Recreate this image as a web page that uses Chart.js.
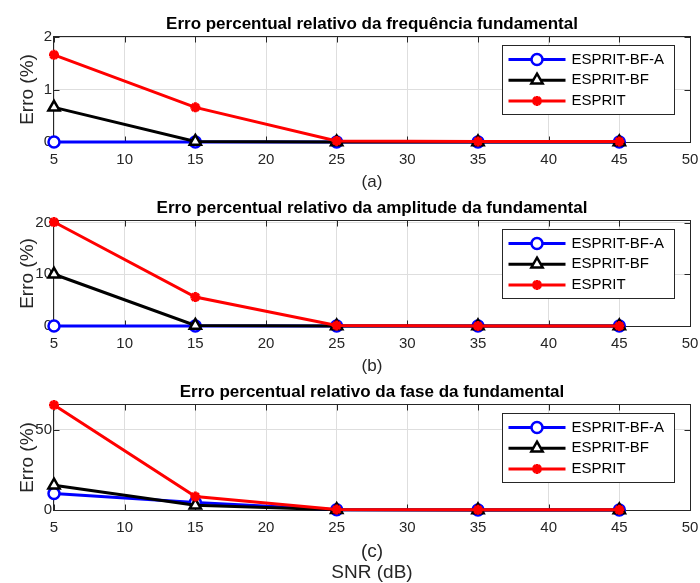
<!DOCTYPE html>
<html>
<head>
<meta charset="utf-8">
<script src="https://cdn.jsdelivr.net/npm/chart.js@4.4.1/dist/chart.umd.min.js"></script>
<style>
  body { margin: 0; background: #fff; }
  #figure { position: relative; width: 700px; height: 583px; overflow: hidden; }
  #figure canvas { position: absolute; left: 0; }
</style>
</head>
<body>
<div id="figure">
  <canvas id="freqChart" width="700" height="193" style="top:0px"></canvas>
  <canvas id="ampChart" width="700" height="193" style="top:184px"></canvas>
  <canvas id="phaseChart" width="700" height="215" style="top:368px"></canvas>
</div>
<script>
// Data
const snr = [5, 15, 25, 35, 45];
const xTicks = [5, 10, 15, 20, 25, 30, 35, 40, 45, 50];
const seriesNames = ['ESPRIT-BF-A', 'ESPRIT-BF', 'ESPRIT'];

const freqBFA = [0, 0, 0, 0, 0];
const freqBF = [0.66, 0.01, 0, 0, 0];
const freqESPRIT = [1.66, 0.66, 0.02, 0.01, 0.01];
const freqTicks = [0, 1, 2];

const ampBFA = [0, 0, 0, 0, 0];
const ampBF = [10, 0.1, 0, 0, 0];
const ampESPRIT = [20.1, 5.6, 0.1, 0, 0];
const ampTicks = [0, 10, 20];

const phaseBFA = [10.3, 4.7, 0.2, 0, 0];
const phaseBF = [15.5, 2.9, 0.2, 0, 0];
const phaseESPRIT = [65.5, 8.4, 0.3, 0.1, 0.1];
const phaseTicks = [0, 50];

// Styles
const seriesColors = ['#0000ff', '#000000', '#ff0000'];
const markerStyles = ['circle', 'triangle', 'star'];
const markerSizes = [5.5, 6.5, 5];
const FONT = '"Liberation Sans", Arial, Helvetica, sans-serif';
const AXIS_GREY = '#262626';

Chart.defaults.font.family = FONT;

// MATLAB-like box with inward ticks, plus legend inside the axes
const matlabAxes = {
  id: 'matlabAxes',
  beforeDatasetsDraw(chart) {
    const { ctx, chartArea: a, scales: { x, y } } = chart;
    const L = Math.round(a.left) - 0.5, R = Math.round(a.right) + 0.5;
    const T = Math.round(a.top) - 0.5, B = Math.round(a.bottom) + 0.5;
    ctx.save();
    ctx.strokeStyle = AXIS_GREY;
    ctx.lineWidth = 1;
    ctx.strokeRect(L, T, R - L, B - T);
    ctx.beginPath();
    x.ticks.forEach(t => {
      const px = Math.round(x.getPixelForValue(t.value)) + 0.5;
      ctx.moveTo(px, B); ctx.lineTo(px, B - 6);
      ctx.moveTo(px, T); ctx.lineTo(px, T + 6);
    });
    y.ticks.forEach(t => {
      const py = Math.round(y.getPixelForValue(t.value)) + 0.5;
      ctx.moveTo(L, py); ctx.lineTo(L + 6, py);
      ctx.moveTo(R, py); ctx.lineTo(R - 6, py);
    });
    ctx.stroke();
    ctx.restore();
  },
  afterDraw(chart) {
    const { ctx, chartArea: area } = chart;
    const sets = chart.data.datasets;
    const rowH = 20.7;
    ctx.save();
    ctx.font = '15px ' + FONT;
    const textW = Math.max(...sets.map(d => ctx.measureText(d.label).width));
    const w = Math.round(69 + textW + 10);
    const h = Math.round(28 + rowH * (sets.length - 1));
    const left = Math.round(area.right - 16 - w) + 0.5;
    const top = Math.round(area.top + 8) + 0.5;
    ctx.fillStyle = '#ffffff';
    ctx.fillRect(left, top, w, h);
    ctx.strokeStyle = AXIS_GREY;
    ctx.lineWidth = 1;
    ctx.strokeRect(left, top, w, h);
    sets.forEach((d, i) => {
      const cy = top + 14 + i * rowH;
      ctx.strokeStyle = d.borderColor;
      ctx.lineWidth = d.borderWidth;
      ctx.beginPath();
      ctx.moveTo(left + 6, cy);
      ctx.lineTo(left + 63, cy);
      ctx.stroke();
      ctx.fillStyle = d.pointBackgroundColor;
      ctx.lineWidth = d.pointBorderWidth;
      Chart.helpers.drawPoint(ctx, {
        pointStyle: d.pointStyle, radius: d.pointRadius, rotation: 0, borderWidth: d.pointBorderWidth
      }, left + 34.5, cy);
      ctx.fillStyle = '#000000';
      ctx.textAlign = 'left';
      ctx.textBaseline = 'middle';
      ctx.fillText(d.label, left + 69, cy);
    });
    ctx.restore();
  }
};

function buildPanel(id, opts) {
  const datasets = opts.series.map((values, i) => ({
    label: seriesNames[i],
    data: snr.map((x, j) => ({ x: x, y: values[j] })),
    borderColor: seriesColors[i],
    backgroundColor: '#ffffff',
    pointBackgroundColor: '#ffffff',
    pointBorderColor: seriesColors[i],
    pointStyle: markerStyles[i],
    pointRadius: markerSizes[i],
    pointBorderWidth: i === 2 ? 3 : 2.5,
    borderWidth: 3,
    tension: 0,
    clip: false,
    order: 2 - i
  }));

  return new Chart(document.getElementById(id), {
    type: 'line',
    data: { datasets },
    options: {
      responsive: false,
      animation: false,
      layout: { padding: { left: 0, right: 10, top: 0, bottom: 0 } },
      plugins: { legend: { display: false }, tooltip: { enabled: false } },
      scales: {
        x: {
          type: 'linear',
          position: 'bottom',
          min: 5,
          max: 50,
          afterBuildTicks: s => { s.ticks = xTicks.map(v => ({ value: v })); },
          afterFit: s => {
            s.height = opts.bottomHeight;
            s.paddingLeft = 0;
            s.paddingRight = 0;
          },
          grid: { color: '#dedede', drawTicks: false },
          border: { display: false },
          ticks: { color: AXIS_GREY, font: { size: 15 }, padding: 9, maxRotation: 0, autoSkip: false },
          title: {
            display: true,
            text: opts.xLabel,
            color: AXIS_GREY,
            font: { size: opts.xLabelSize, lineHeight: opts.xLabelLine },
            padding: { top: 0, bottom: 0 }
          }
        },
        heading: {
          type: 'linear',
          axis: 'x',
          position: 'top',
          min: 5,
          max: 50,
          afterFit: s => { s.height = 37; },
          grid: { display: false },
          border: { display: false },
          ticks: { display: false },
          title: {
            display: true,
            text: opts.title,
            color: '#000000',
            font: { size: 17, weight: 'bold', lineHeight: 1.2 },
            padding: { top: 14, bottom: 0 }
          }
        },
        y: {
          min: 0,
          max: opts.yMax,
          afterBuildTicks: s => { s.ticks = opts.yTicks.map(v => ({ value: v })); },
          afterFit: s => { s.width = 54; },
          grid: { color: '#dedede', drawTicks: false },
          border: { display: false },
          ticks: { color: AXIS_GREY, font: { size: 15 }, padding: 2 },
          title: {
            display: true,
            text: 'Erro (%)',
            color: AXIS_GREY,
            font: { size: 19, lineHeight: 1.2 },
            padding: { top: 16.5, bottom: 0 }
          }
        }
      }
    },
    plugins: [matlabAxes]
  });
}

buildPanel('freqChart', {
  title: 'Erro percentual relativo da frequência fundamental',
  xLabel: '(a)', xLabelSize: 17, xLabelLine: 1.2, bottomHeight: 51,
  yMax: 2, yTicks: freqTicks,
  series: [freqBFA, freqBF, freqESPRIT]
});

buildPanel('ampChart', {
  title: 'Erro percentual relativo da amplitude da fundamental',
  xLabel: '(b)', xLabelSize: 17, xLabelLine: 1.2, bottomHeight: 51,
  yMax: 20.3, yTicks: ampTicks,
  series: [ampBFA, ampBF, ampESPRIT]
});

buildPanel('phaseChart', {
  title: 'Erro percentual relativo da fase da fundamental',
  xLabel: ['(c)', 'SNR (dB)'], xLabelSize: 19, xLabelLine: 1.1, bottomHeight: 73,
  yMax: 65.5, yTicks: phaseTicks,
  series: [phaseBFA, phaseBF, phaseESPRIT]
});
</script>
</body>
</html>
